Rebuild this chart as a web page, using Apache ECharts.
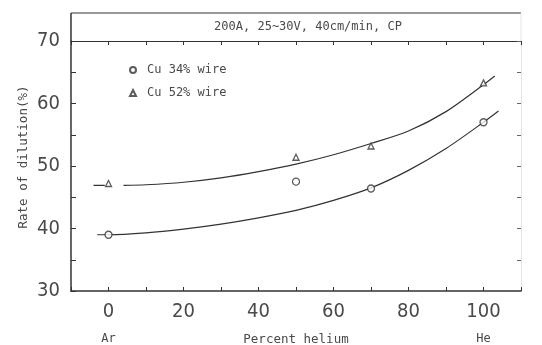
<!DOCTYPE html>
<html>
<head>
<meta charset="utf-8">
<script src="https://cdn.jsdelivr.net/npm/echarts@6/dist/echarts.min.js"></script>
<style>html,body{margin:0;padding:0;background:#fff}#c{width:542px;height:345px}</style>
</head>
<body>
<div id="c"></div>
<script>
// Measured points
var heliumPct = [0, 50, 70, 100];
var cu34 = [39.0, 47.5, 46.4, 57.0];
var cu52 = [47.2, 51.4, 53.2, 63.3];
// Fitted curves
var curveLowX = [-3, 0, 10, 20, 30, 40, 50, 60, 70, 80, 90, 100, 104];
var curveLowY = [39.0, 39.0, 39.3, 39.9, 40.7, 41.7, 42.9, 44.5, 46.5, 49.3, 52.8, 57.0, 58.8];
var curveUpX = [-4, -1, null, 4, 10, 20, 30, 40, 50, 60, 70, 80, 90, 100, 103];
var curveUpY = [46.9, 46.9, null, 46.9, 47.0, 47.4, 48.1, 49.1, 50.3, 51.8, 53.6, 55.6, 58.7, 63.0, 64.4];
var xTicks = [0, 20, 40, 60, 80, 100];
var yTicks = [30, 40, 50, 60, 70];
var legendNames = ['Cu 34% wire', 'Cu 52% wire'];
var conditions = '200A, 25~30V, 40cm/min, CP';

function pairs(xs, ys) {
  return xs.map(function (x, i) { return x === null ? [null, null] : [x, ys[i]]; });
}
var ink = '#333';
var txt = '#4a4a4a';
var chart = echarts.init(document.getElementById('c'));
chart.setOption({
  animation: false,
  backgroundColor: '#fff',
  grid: { left: 71, right: 21, top: 41, bottom: 54, containLabel: false, outerBoundsMode: 'none' },
  legend: {
    orient: 'vertical', left: 124, top: 59, itemWidth: 6, itemHeight: 6, itemGap: 11,
    data: [
      { name: legendNames[0], icon: 'circle' },
      { name: legendNames[1], icon: 'triangle' }
    ],
    textStyle: { fontFamily: 'DejaVu Sans Mono', fontSize: 12, color: txt, padding: [0, 0, 0, 6] }
  },
  xAxis: [{
    type: 'value', min: -10, max: 110, interval: 10,
    name: 'Percent helium', nameLocation: 'middle', nameGap: 42, nameMoveOverlap: false,
    nameTextStyle: { fontFamily: 'DejaVu Sans Mono', fontSize: 12.5, color: txt },
    axisLine: { onZero: false, lineStyle: { color: ink, width: 1.5 } },
    axisTick: { inside: true, length: 4, lineStyle: { color: ink } },
    splitLine: { show: false },
    axisLabel: {
      margin: 10, verticalAlign: 'top',
      formatter: function (v) {
        if (xTicks.indexOf(v) < 0) return '';
        if (v === 0) return '{a|' + v + '}\n{b|Ar}';
        if (v === 100) return '{a|' + v + '}\n{b|He}';
        return '{a|' + v + '}';
      },
      rich: {
        a: { fontFamily: 'DejaVu Sans Condensed', fontSize: 20, color: txt, lineHeight: 22 },
        b: { fontFamily: 'DejaVu Sans Mono', fontSize: 12, color: txt, lineHeight: 32 }
      }
    }
  }, {
    type: 'value', position: 'top', min: -10, max: 110, interval: 10,
    axisLine: { show: true, onZero: false, lineStyle: { color: ink, width: 1.2 } },
    axisTick: { inside: true, length: 4, lineStyle: { color: ink } },
    axisLabel: { show: false }, splitLine: { show: false }
  }],
  yAxis: [{
    type: 'value', min: 30, max: 70, interval: 5,
    name: 'Rate of dilution(%)', nameLocation: 'middle', nameGap: 41, nameMoveOverlap: false,
    nameTextStyle: { fontFamily: 'DejaVu Sans Mono', fontSize: 12.5, color: txt, padding: [0, 0, 0, 18] },
    axisLine: { show: true, onZero: false, lineStyle: { color: ink, width: 1.5 } },
    axisTick: { inside: true, length: 5, lineStyle: { color: ink } },
    splitLine: { show: false },
    axisLabel: {
      margin: 11, fontFamily: 'DejaVu Sans Condensed', fontSize: 20, color: txt,
      formatter: function (v) { return yTicks.indexOf(v) >= 0 ? String(v) : ''; }
    }
  }, {
    type: 'value', position: 'right', min: 30, max: 70, interval: 5,
    axisLine: { show: true, onZero: false, lineStyle: { color: '#e4e4e4', width: 1 } },
    axisTick: { inside: true, length: 4, lineStyle: { color: '#666' } },
    axisLabel: { show: false }, splitLine: { show: false }
  }],
  graphic: [
    { type: 'line', shape: { x1: 71, y1: 13, x2: 521, y2: 13 }, style: { stroke: ink, lineWidth: 1.2 } },
    { type: 'line', shape: { x1: 71, y1: 13, x2: 71, y2: 41 }, style: { stroke: ink, lineWidth: 1.5 } },
    { type: 'line', shape: { x1: 521, y1: 13, x2: 521, y2: 41 }, style: { stroke: '#e4e4e4', lineWidth: 1 } },
    { type: 'text', x: 308, y: 27, style: { text: conditions, fontFamily: 'DejaVu Sans Mono', fontSize: 12, fill: txt, textAlign: 'center', textVerticalAlign: 'middle' } }
  ],
  series: [
    { name: 'low', type: 'line', data: pairs(curveLowX, curveLowY), smooth: 0.3, showSymbol: false,
      lineStyle: { color: ink, width: 1.2 }, z: 2 },
    { name: 'up', type: 'line', data: pairs(curveUpX, curveUpY), smooth: 0.3, showSymbol: false, connectNulls: false,
      lineStyle: { color: ink, width: 1.2 }, z: 2 },
    { name: legendNames[0], type: 'scatter', data: pairs(heliumPct, cu34), symbol: 'circle', symbolSize: 7,
      itemStyle: { color: '#fff', borderColor: ink, borderWidth: 1.3 }, z: 3 },
    { name: legendNames[1], type: 'scatter', data: pairs(heliumPct, cu52), symbol: 'triangle', symbolSize: 6,
      itemStyle: { color: '#fff', borderColor: ink, borderWidth: 1.3 }, z: 3 }
  ]
});
</script>
</body>
</html>
